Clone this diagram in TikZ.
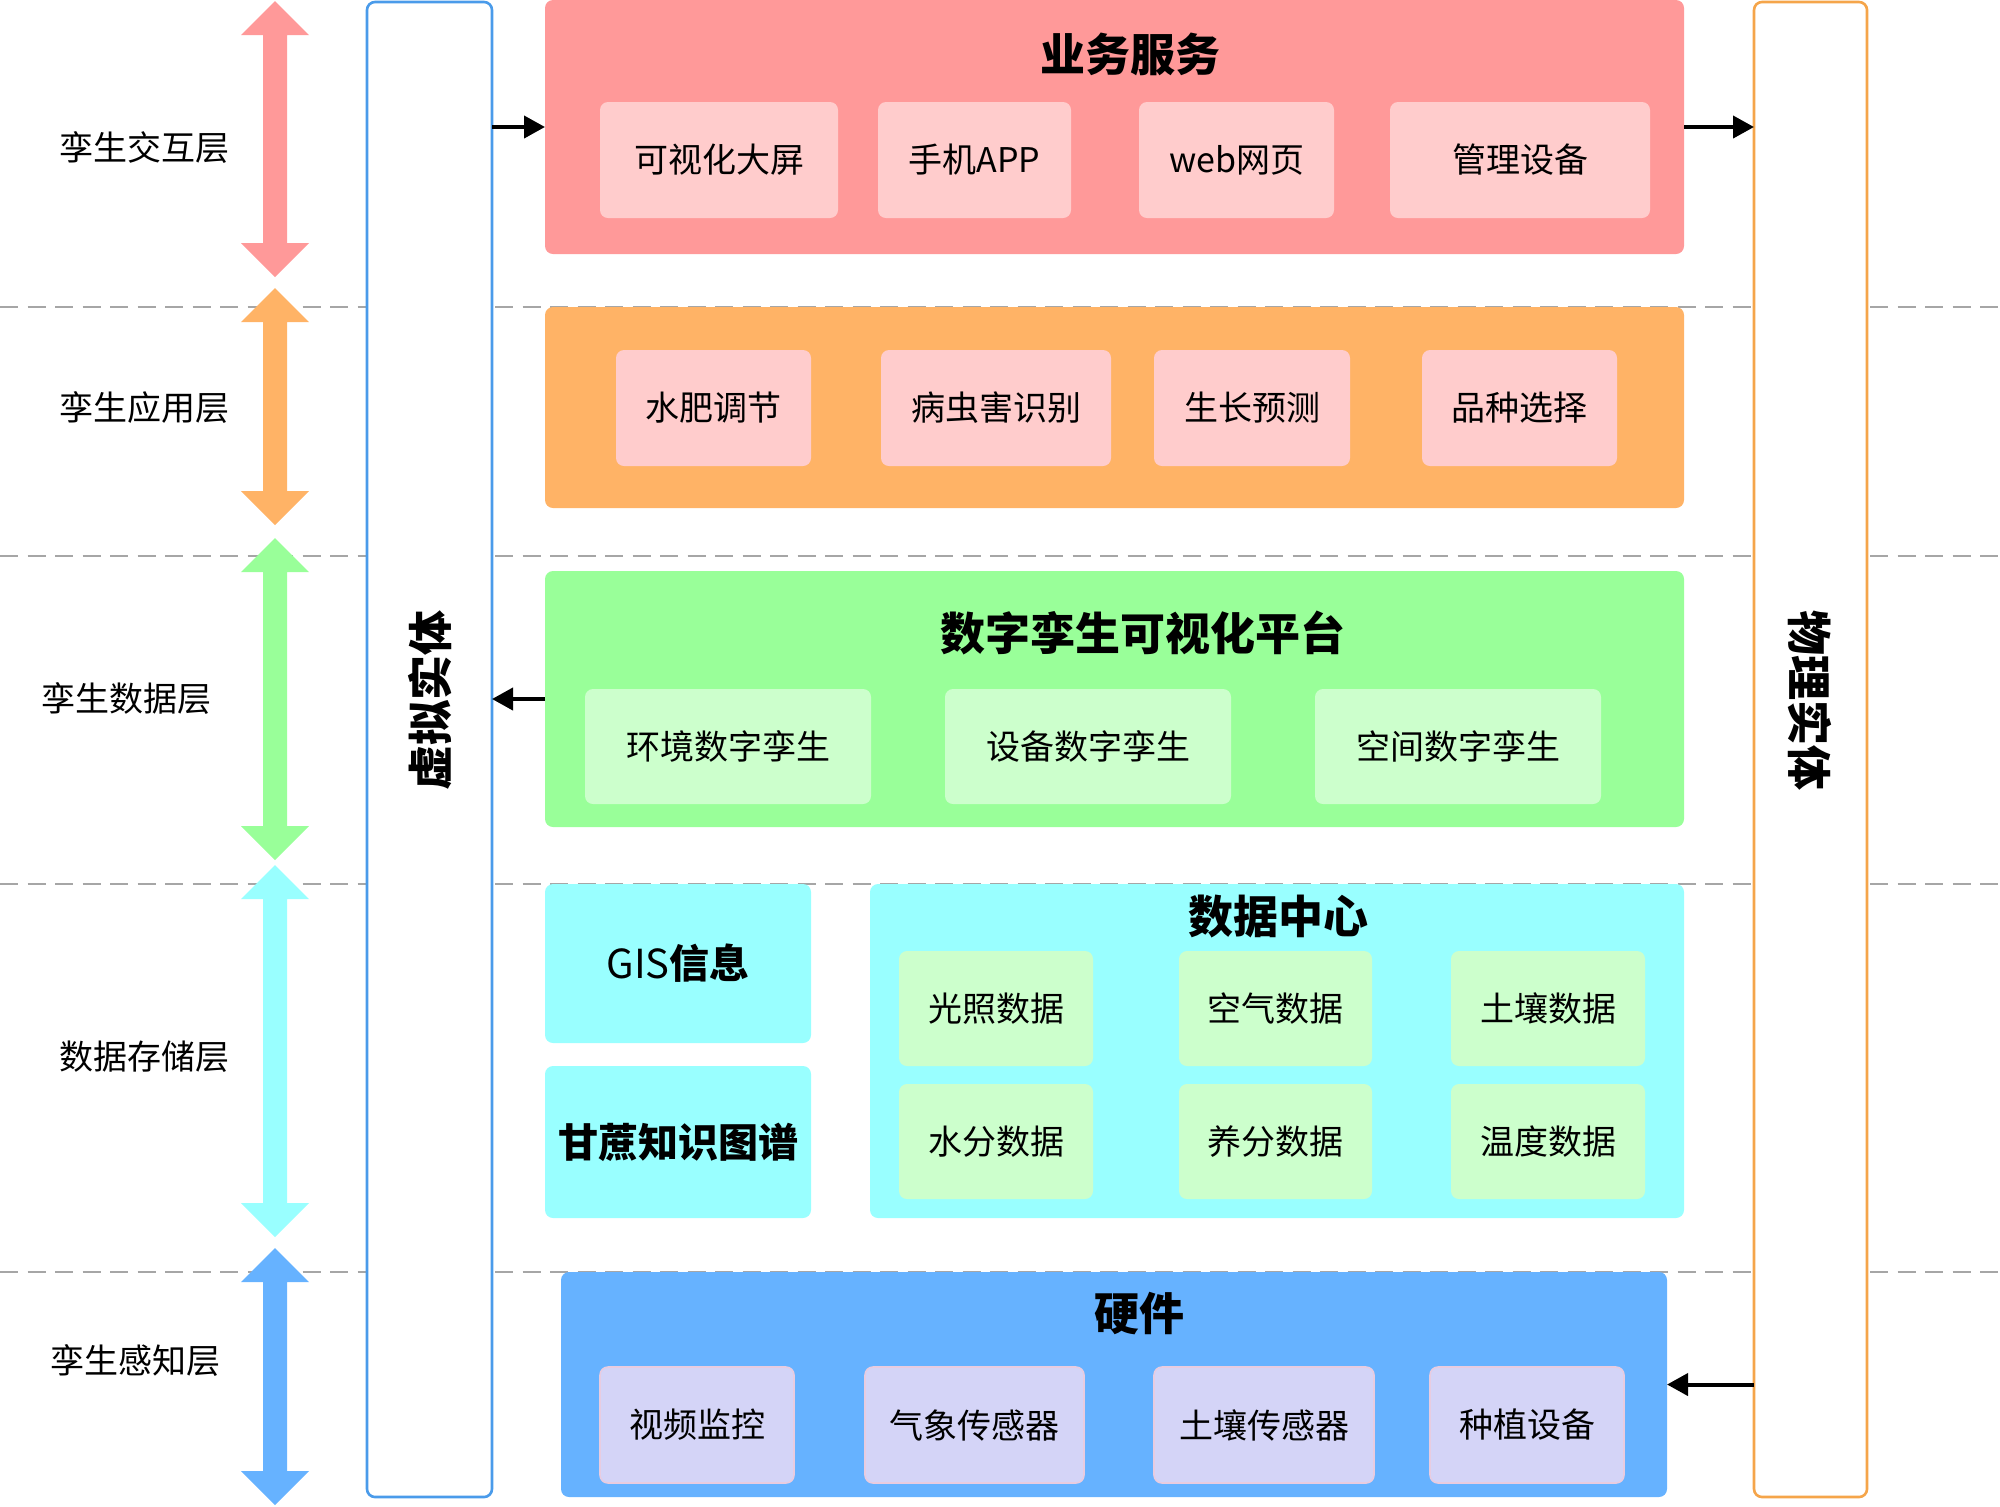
\documentclass[tikz,border=0pt]{standalone}
\usepackage{fontspec}
\setmainfont{Noto Sans CJK SC}
\usetikzlibrary{arrows.meta}
\definecolor{cpink}{HTML}{FF9999}
\definecolor{cpinklt}{HTML}{FFCCCC}
\definecolor{corange}{HTML}{FFB366}
\definecolor{cgreen}{HTML}{99FF99}
\definecolor{cgreenlt}{HTML}{CCFFCC}
\definecolor{ccyan}{HTML}{99FFFF}
\definecolor{cblue}{HTML}{66B2FF}
\definecolor{clav}{HTML}{D4D4F7}
\definecolor{clavbd}{HTML}{E8CCE0}
\definecolor{vblue}{HTML}{4A9BEA}
\definecolor{porange}{HTML}{F5A54A}
\definecolor{dashgray}{HTML}{A6A6A6}
\newcommand\mybox[7]{\node[#2, minimum width={(#5-#3)*0.5pt}, minimum height={(#6-#4)*0.5pt}] (#1) at ({(#3+#5)/2},{(#4+#6)/2}) {#7};}
\newcommand\layerarrow[3]{\fill[#1] (275,#2) -- (309,#2+34) -- (287,#2+34) -- (287,#3-34) -- (309,#3-34) -- (275,#3) -- (241,#3-34) -- (263,#3-34) -- (263,#2+34) -- (241,#2+34) -- cycle;}
\tikzset{
  basebox/.style={rectangle, rounded corners=4pt, inner sep=0pt, outer sep=0pt, font=\fontsize{17pt}{20pt}\selectfont},
  layerbox/.style={basebox},
  itembox/.style={basebox},
  sidebox/.style={basebox, fill=white, line width=1.3pt},
  titletext/.style={font=\bfseries\fontsize{22.5pt}{26pt}\selectfont, inner sep=0pt},
  layertext/.style={font=\fontsize{17pt}{20pt}\selectfont, inner sep=0pt},
  dashline/.style={draw=dashgray, line width=1.2pt, dash pattern=on 9pt off 4.75pt},
  conn/.style={line width=2pt, -{Triangle[length=10.5pt,width=11pt]}},
}
\begin{document}
\begin{tikzpicture}[x=0.5pt,y=-0.5pt]
\useasboundingbox (0,0) rectangle (2000,1506);
% dashed separators
\foreach \yy in {307,556,884,1272} {\draw[dashline] (0,\yy) -- (2000,\yy);}
% layer arrows
\layerarrow{cpink}{1}{277}
\layerarrow{corange}{288}{525}
\layerarrow{cgreen}{538}{860}
\layerarrow{ccyan}{865}{1237}
\layerarrow{cblue}{1248}{1505}
% layer labels
\node[layertext] (l1) at (144,148) {孪生交互层};
\node[layertext] (l2) at (144,408) {孪生应用层};
\node[layertext] (l3) at (126,699) {孪生数据层};
\node[layertext] (l4) at (144,1057) {数据存储层};
\node[layertext] (l5) at (135,1360) {孪生感知层};
% side boxes
\mybox{vbox}{sidebox, draw=vblue}{367}{2}{492}{1497}{}
\mybox{pbox}{sidebox, draw=porange}{1754}{2}{1867}{1497}{}
\node[titletext, rotate=90] (vlab) at (430,700) {虚拟实体};
\node[titletext, rotate=-90] (plab) at (1810,700) {物理实体};
% business layer
\mybox{biz}{layerbox, fill=cpink}{545}{0}{1684}{254}{}
\node[titletext] (biztitle) at (1130,54) {业务服务};
\mybox{b1}{itembox, fill=cpinklt}{600}{102}{838}{218}{可视化大屏}
\mybox{b2}{itembox, fill=cpinklt}{878}{102}{1071}{218}{手机APP}
\mybox{b3}{itembox, fill=cpinklt}{1139}{102}{1334}{218}{web网页}
\mybox{b4}{itembox, fill=cpinklt}{1390}{102}{1650}{218}{管理设备}
% application layer
\mybox{app}{layerbox, fill=corange}{545}{307}{1684}{508}{}
\mybox{a1}{itembox, fill=cpinklt}{616}{350}{811}{466}{水肥调节}
\mybox{a2}{itembox, fill=cpinklt}{881}{350}{1111}{466}{病虫害识别}
\mybox{a3}{itembox, fill=cpinklt}{1154}{350}{1350}{466}{生长预测}
\mybox{a4}{itembox, fill=cpinklt}{1422}{350}{1617}{466}{品种选择}
% data layer
\mybox{dat}{layerbox, fill=cgreen}{545}{571}{1684}{827}{}
\node[titletext] (dattitle) at (1143,633) {数字孪生可视化平台};
\mybox{d1}{itembox, fill=cgreenlt}{585}{689}{871}{804}{环境数字孪生}
\mybox{d2}{itembox, fill=cgreenlt}{945}{689}{1231}{804}{设备数字孪生}
\mybox{d3}{itembox, fill=cgreenlt}{1315}{689}{1601}{804}{空间数字孪生}
% storage layer
\mybox{gis}{layerbox, fill=ccyan, font=\fontsize{20pt}{24pt}\selectfont}{545}{884}{811}{1043}{GIS\textbf{信息}}
\mybox{kg}{layerbox, fill=ccyan, font=\bfseries\fontsize{20pt}{24pt}\selectfont}{545}{1066}{811}{1218}{甘蔗知识图谱}
\mybox{dc}{layerbox, fill=ccyan}{870}{884}{1684}{1218}{}
\node[titletext] (dctitle) at (1278,916) {数据中心};
\mybox{c1}{itembox, fill=cgreenlt}{899}{951}{1093}{1066}{光照数据}
\mybox{c2}{itembox, fill=cgreenlt}{1179}{951}{1372}{1066}{空气数据}
\mybox{c3}{itembox, fill=cgreenlt}{1451}{951}{1645}{1066}{土壤数据}
\mybox{c4}{itembox, fill=cgreenlt}{899}{1084}{1093}{1199}{水分数据}
\mybox{c5}{itembox, fill=cgreenlt}{1179}{1084}{1372}{1199}{养分数据}
\mybox{c6}{itembox, fill=cgreenlt}{1451}{1084}{1645}{1199}{温度数据}
% hardware layer
\mybox{hw}{layerbox, fill=cblue}{561}{1272}{1667}{1497}{}
\node[titletext] (hwtitle) at (1139,1314) {硬件};
\mybox{h1}{itembox, fill=clav, draw=clavbd, line width=0.8pt}{600}{1367}{794}{1483}{视频监控}
\mybox{h2}{itembox, fill=clav, draw=clavbd, line width=0.8pt}{865}{1367}{1084}{1483}{气象传感器}
\mybox{h3}{itembox, fill=clav, draw=clavbd, line width=0.8pt}{1154}{1367}{1374}{1483}{土壤传感器}
\mybox{h4}{itembox, fill=clav, draw=clavbd, line width=0.8pt}{1430}{1367}{1624}{1483}{种植设备}
% connectors
\draw[conn] (vbox.east |- biz.west) -- (biz.west);
\draw[conn] (biz.east) -- (biz.east -| pbox.west);
\draw[conn] (dat.west) -- (dat.west -| vbox.east);
\draw[conn] (hw.east -| pbox.west) -- (hw.east);
\end{tikzpicture}
\end{document}
